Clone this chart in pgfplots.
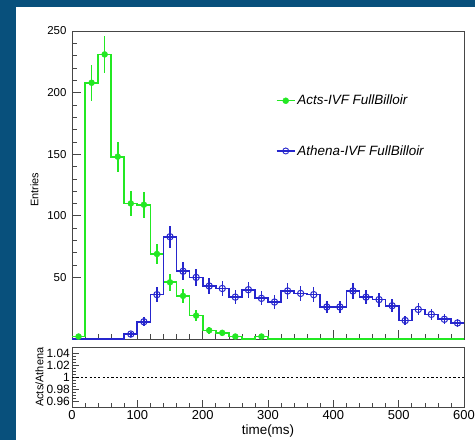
\documentclass[border=0pt]{standalone}
\usepackage{fontspec}
\setmainfont{Liberation Sans}
\usepackage{pgfplots}
\usepackage{pgfplotstable}
\pgfplotsset{compat=1.18}
\definecolor{bgblue}{RGB}{8,80,124}
\definecolor{actsgreen}{RGB}{35,232,35}
\definecolor{athblue}{RGB}{38,38,205}
\definecolor{framegray}{RGB}{70,70,70}

\pgfplotstableread{
x y ey
10 2 1.41
30 208 14.42
50 231 15.20
70 148 12.17
90 110 10.49
110 109 10.44
130 69 8.31
150 46 6.78
170 35 5.92
190 19 4.36
210 7 2.65
230 5 2.24
250 2 1.41
290 2 1.41
}\actspts

\pgfplotstableread{
x y ey
90 4 2.00
110 14 3.74
130 36 6.00
150 83 9.11
170 55 7.42
190 50 7.07
210 43 6.56
230 41 6.40
250 34 5.83
270 40 6.32
290 33 5.74
310 30 5.48
330 39 6.24
350 37 6.08
370 36 6.00
390 26 5.10
410 26 5.10
430 39 6.24
450 34 5.83
470 32 5.66
490 27 5.20
510 15 3.87
530 24 4.90
550 20 4.47
570 16 4.00
590 13 3.61
}\athpts

\begin{document}
\begin{tikzpicture}
\useasboundingbox (0bp,0bp) rectangle (475bp,440bp);
\fill[bgblue] (0bp,0bp) rectangle (475bp,440bp);
\fill[white] (16bp,0bp) rectangle (475bp,433bp);

\begin{axis}[
  at={(72bp,101bp)}, anchor=south west,
  scale only axis, width=392bp, height=308bp,
  xmin=0, xmax=600, ymin=0, ymax=250,
  clip=false,
  axis line style={framegray, line width=0.8pt},
  tick style={framegray, line width=0.6pt},
  tick align=inside, tick pos=left,
  xtick={0,100,...,600}, xticklabels={},
  minor x tick num=4,
  ytick={50,100,150,200,250},
  minor y tick num=4,
  major tick length=9bp, minor tick length=4.5bp,
  /pgf/number format/assume math mode=true,
  tick label style={font=\fontsize{11.5}{13}\selectfont},
  yticklabel style={xshift=-2bp},
  ylabel={Entries},
  ylabel style={at={(axis description cs:-0.096,0.484)}, anchor=center, rotate=0, font=\fontsize{11}{13}\selectfont},
  legend style={draw=none, fill=none, at={(axis cs:312,173)}, anchor=west,
    inner sep=0pt, row sep=35bp, font=\fontsize{13.5}{15}\selectfont\itshape,
    cells={anchor=west}},
  legend cell align=left,
]
\addplot[const plot mark left, draw=actsgreen, line width=1.7pt, forget plot] coordinates {
(0,2)(20,208)(40,231)(60,148)(80,110)(100,109)(120,69)(140,46)(160,35)(180,19)(200,7)(220,5)(240,2)(260,0)(280,2)(300,0)(600,0)};
\addplot[const plot mark left, draw=athblue, line width=1.7pt, forget plot] coordinates {
(0,0)(80,4)(100,14)(120,36)(140,83)(160,55)(180,50)(200,43)(220,41)(240,34)(260,40)(280,33)(300,30)(320,39)(340,37)(360,36)(380,26)(400,26)(420,39)(440,34)(460,32)(480,27)(500,15)(520,24)(540,20)(560,16)(580,13)(600,13)};
\addplot[only marks, color=actsgreen, mark=*, mark size=3pt,
  mark options={fill=actsgreen, draw=actsgreen},
  error bars/.cd, y dir=both, y explicit, error mark=none,
  error bar style={draw=actsgreen, solid, line width=1.6pt},
  /pgfplots/legend image code/.code={\draw[actsgreen, line width=1.4pt] (0bp,0bp) -- (18bp,0bp);
    \fill[actsgreen] (9bp,0bp) circle (3bp);}]
  table[x=x, y=y, y error=ey] {\actspts};
\addlegendentry{Acts-IVF FullBilloir}
\addplot[only marks, color=athblue, mark=o, mark size=3.2pt,
  mark options={draw=athblue, line width=1pt},
  error bars/.cd, y dir=both, y explicit, error mark=none,
  error bar style={draw=athblue, solid, line width=1.5pt},
  /pgfplots/legend image code/.code={\draw[athblue, line width=1.4pt] (0bp,0bp) -- (18bp,0bp);
    \draw[athblue, line width=0.9pt] (9bp,0bp) circle (3bp);}]
  table[x=x, y=y, y error=ey] {\athpts};
\addlegendentry{Athena-IVF FullBilloir}
\end{axis}

\begin{axis}[
  at={(72bp,33bp)}, anchor=south west,
  scale only axis, width=392bp, height=59.5bp,
  xmin=0, xmax=600, ymin=0.95, ymax=1.05,
  axis line style={framegray, line width=0.8pt},
  tick style={framegray, line width=0.6pt},
  tick align=inside, tick pos=left,
  xtick={0,100,...,600},
  minor x tick num=4,
  ytick={0.96,0.98,1,1.02,1.04},
  yticklabels={0.96,0.98,1,1.02,1.04},
  minor y tick num=3,
  major tick length=7bp, minor tick length=3.5bp,
  /pgf/number format/assume math mode=true,
  xticklabel style={font=\fontsize{13}{15}\selectfont},
  yticklabel style={font=\fontsize{12}{12}\selectfont, inner xsep=2pt},
  xlabel={time(ms)},
  xlabel style={at={(axis description cs:0.5,-0.40)}, anchor=center, font=\fontsize{13.5}{15}\selectfont},
  ylabel={Acts/Athena},
  ylabel style={at={(axis description cs:-0.083,0.5)}, anchor=center, rotate=0, font=\fontsize{11}{13}\selectfont},
]
\addplot[black, line width=0.8pt, dash pattern=on 2.2pt off 2.2pt] coordinates {(0,1) (600,1)};
\end{axis}
\end{tikzpicture}
\end{document}
